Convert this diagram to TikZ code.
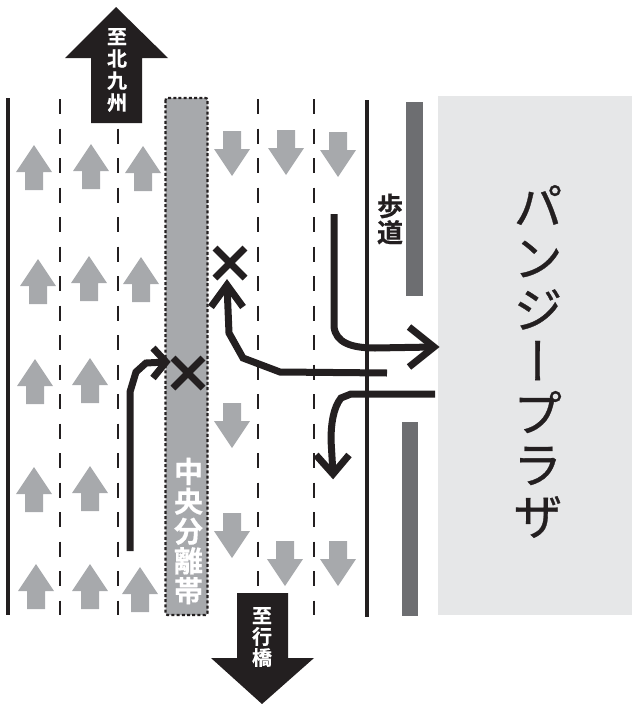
\documentclass[tikz,border=0pt]{standalone}
\usepackage{fontspec}
\newfontfamily\cjk[RawFeature=+vert,FakeBold=0.6]{Noto Sans CJK JP}
\newfontfamily\cjkb[FakeBold=0.5]{Noto Sans CJK JP Bold}
\definecolor{ink}{HTML}{231F20}
\definecolor{midgray}{HTML}{A7A9AC}
\definecolor{bargray}{HTML}{6D6E71}
\definecolor{plazagray}{HTML}{E6E7E8}
\tikzset{x=1pt,y=-1pt,
 solidline/.style={ink,line width=3.4pt},
 laneline/.style={ink,line width=2.4pt,dash pattern=on 15pt off 14.5pt},
 route/.style={ink,line width=7pt,line join=miter},
 cross/.style={ink,line width=7pt},
 lbl/.style={inner sep=0pt,align=center},
}
\newcommand{\uparr}[2]{\fill[midgray] (#1,#2) -- ++(18,27) -- ++(-9,0) -- ++(0,18) -- ++(-18,0) -- ++(0,-18) -- ++(-9,0) -- cycle;}
\newcommand{\dnarr}[2]{\fill[midgray] (#1,#2) -- ++(18,-27) -- ++(-9,0) -- ++(0,-18) -- ++(-18,0) -- ++(0,18) -- ++(-9,0) -- cycle;}
\newcommand{\xmark}[2]{\draw[cross] (#1-15,#2-15) -- (#1+15,#2+15) (#1-15,#2+15) -- (#1+15,#2-15);}
\begin{document}
\begin{tikzpicture}
\useasboundingbox (0,0) rectangle (632,704);
\fill[plazagray] (438,96) rectangle (632,615);
\fill[bargray] (406,102) rectangle (423,296);
\fill[bargray] (402,422) rectangle (418,616);
\draw[solidline] (8,98) -- (8,615);
\draw[solidline] (367,100) -- (367,617);
\foreach \x in {60,118,258,314} \draw[laneline] (\x,99) -- (\x,615);
\draw[ink,fill=midgray,line width=2.2pt,dash pattern=on 3pt off 2.2pt,rounded corners=2pt] (165.5,98) rectangle (207.5,615);
\fill[ink] (116,7) -- (168,58) -- (142,58) -- (142,123) -- (91,123) -- (91,58) -- (65,58) -- cycle;
\fill[ink] (262,704) -- (314,658) -- (288,658) -- (288,593) -- (237,593) -- (237,658) -- (211,658) -- cycle;
\uparr{34}{145}\uparr{91}{144}\uparr{143}{146}
\uparr{38}{259}\uparr{89}{256}\uparr{141}{257}
\uparr{35}{359}\uparr{90}{358}
\uparr{34}{467}\uparr{90}{466}
\uparr{36}{564}\uparr{90}{564}\uparr{140}{567}
\dnarr{232}{176}\dnarr{286}{175}\dnarr{338}{177}
\dnarr{232}{448}\dnarr{232}{558}\dnarr{285}{586}\dnarr{338}{586}
\coordinate (a1) at (130,551);\coordinate (a1t) at (166,362);
\draw[route] (a1) -- (130,392) -- (136,372) -- (146,363) -- (a1t);
\draw[route] (153,348) -- (a1t) -- (153,378);
\xmark{188}{373}
\xmark{230}{263}
\coordinate (a2) at (387,373);\coordinate (a2t) at (227,285);
\draw[route] (a2) -- (280,372) -- (243,358) -- (229,333) -- (a2t);
\draw[route] (211,307) -- (a2t) -- (243,307);
\coordinate (a3) at (334,214);\coordinate (a3t) at (434,347);
\draw[route] (a3) -- (334,327) .. controls (336,342) and (350,348) .. (375,348) -- (a3t);
\draw[route] (409,327) -- (a3t) -- (409,367);
\coordinate (a4) at (435,394);\coordinate (a4t) at (333,474);
\draw[route] (a4) -- (351,394) -- (341,398) .. controls (333,408) and (331,425) .. (331,440) -- (a4t);
\draw[route] (316,455) -- (a4t) -- (349,455);
\node[lbl,white,font={\cjkb\fontsize{20}{22}\selectfont}] (n1) at (117,70) {至\\北\\九\\州};
\node[lbl,white,font={\cjkb\fontsize{20}{21}\selectfont}] (n2) at (262,637) {至\\行\\橋};
\node[lbl,white,font={\cjkb\fontsize{29}{29.8}\selectfont}] (n3) at (188.5,531) {中\\央\\分\\離\\帯};
\node[lbl,ink,font={\cjkb\fontsize{26}{26.5}\selectfont}] (n4) at (390,219) {歩\\道};
\node[lbl,ink,font={\cjk\fontsize{50}{51.7}\selectfont}] (n5) at (538,361.5) {パ\\ン\\ジ\\ー\\プ\\ラ\\ザ};
\end{tikzpicture}
\end{document}
